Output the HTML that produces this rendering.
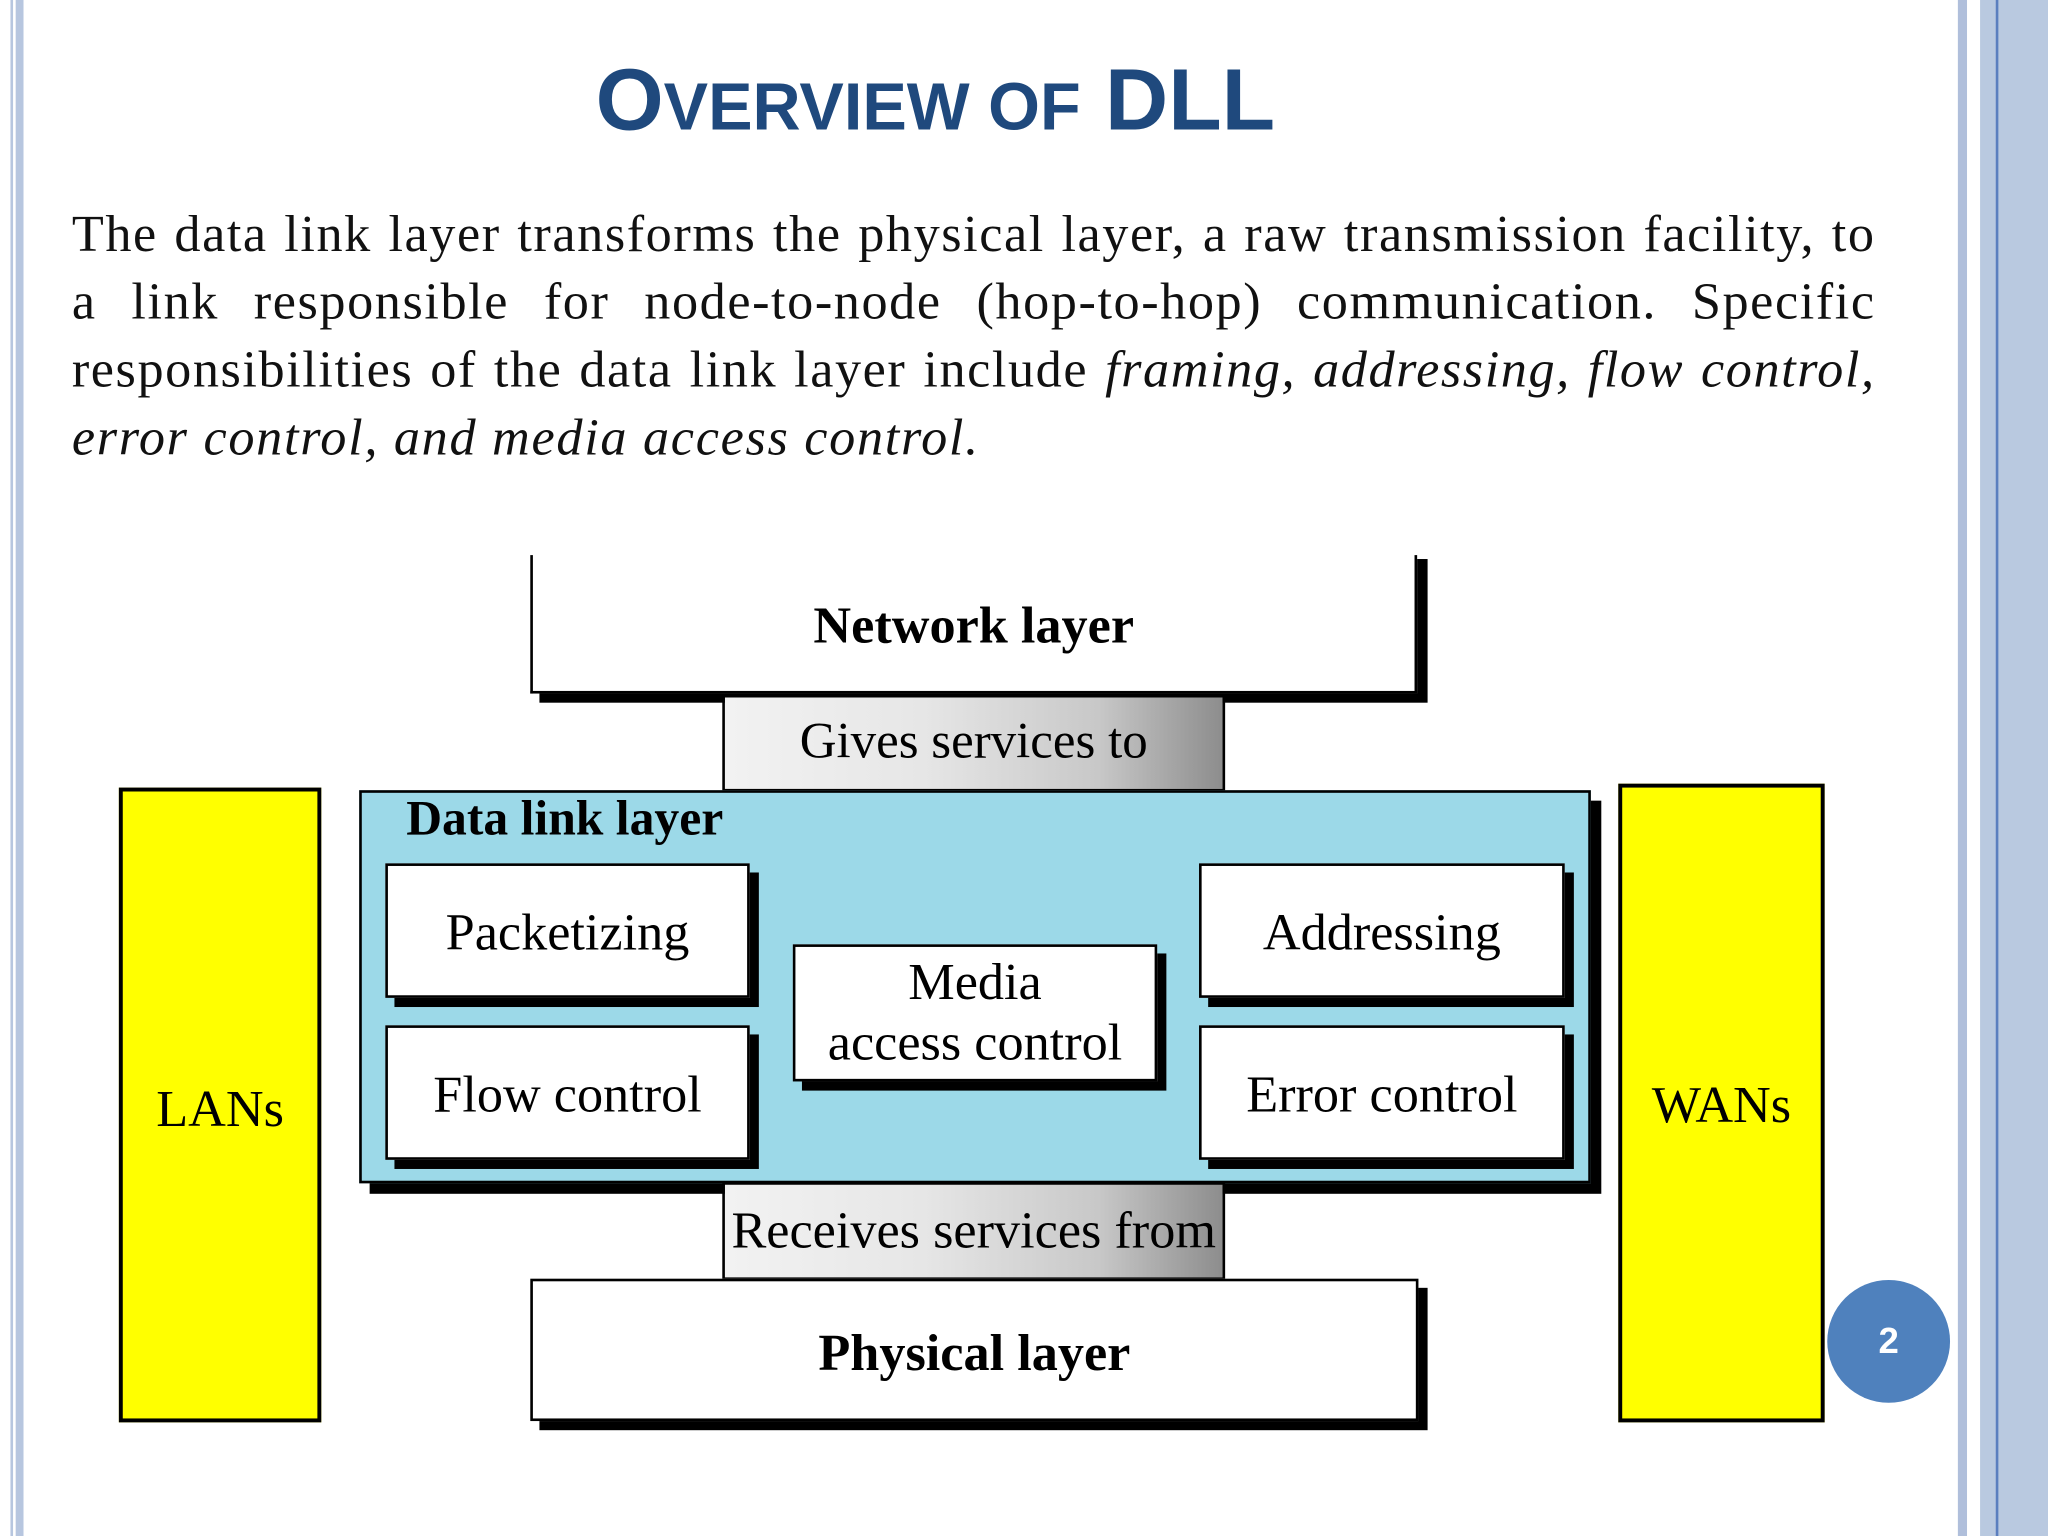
<!DOCTYPE html>
<html><head><meta charset="utf-8"><style>
html,body{margin:0;padding:0;background:#fff;width:2048px;height:1536px;overflow:hidden}
#s{position:absolute;left:0;top:0;width:1568px;height:1176px;transform:scale(1.30612);transform-origin:0 0;font-family:"Liberation Serif",serif}
.a{position:absolute}
.box{position:absolute;background:#fff;border:2px solid #000;box-shadow:7px 7px 0 #000;box-sizing:border-box}
.t{position:absolute;left:0;right:0;text-align:center;white-space:nowrap}
.c{display:inline-block}
.ln{position:absolute;left:55px;width:1381px;font-size:40px;line-height:52px;text-align:justify;text-align-last:justify;color:#111;letter-spacing:1.2px}
</style></head><body><div id="s">
<div class="a" style="left:8px;top:0;width:2px;height:1176px;background:#b7c6df"></div>
<div class="a" style="left:12px;top:0;width:6px;height:1176px;background:#b7c6df"></div>
<div class="a" style="left:1499px;top:0;width:7px;height:1176px;background:#b0bfdb"></div>
<div class="a" style="left:1516px;top:0;width:52px;height:1176px;background:#b9c9e0"></div>
<div class="a" style="left:1528px;top:0;width:2px;height:1176px;background:#5b7fbf"></div>

<div class="a" style="left:456px;top:41px;font-family:'Liberation Sans',sans-serif;font-weight:bold;color:#1f497d;white-space:nowrap;font-size:67px;line-height:72px"><span>O</span><span style="font-size:51px">VERVIEW OF</span> DLL</div>

<div class="ln" style="top:153px">The data link layer transforms the physical layer, a raw transmission facility, to</div>
<div class="ln" style="top:205px">a link responsible for node-to-node (hop-to-hop) communication. Specific</div>
<div class="ln" style="top:257px">responsibilities of the data link layer include <i>framing, addressing, flow control,</i></div>
<div class="ln" style="top:309px;text-align-last:left;letter-spacing:1.3px;white-space:nowrap"><i>error control, and media access control.</i></div>

<!-- Network layer -->
<div class="a" style="left:413px;top:428px;width:680px;height:110px;background:#000"></div>
<div class="a" style="left:406px;top:425px;width:679px;height:106px;background:#fff;border-left:2px solid #000;border-right:2px solid #000;border-bottom:2px solid #000;box-sizing:border-box"></div>
<div class="t" style="left:406px;width:679px;top:455px;font-size:40px;font-weight:bold"><span class="c">Network layer</span></div>

<!-- Gives -->
<div class="a" style="left:553px;top:532px;width:385px;height:74px;border:2px solid #000;box-sizing:border-box;background:linear-gradient(90deg,#f2f2f2 0%,#e6e6e6 40%,#c8c8c8 75%,#8d8d8d 100%)"></div>
<div class="t" style="left:553px;width:385px;top:545px;font-size:39px"><span class="c">Gives services to</span></div>

<!-- DLL -->
<div class="box" style="left:275px;top:605px;width:943px;height:301px;background:#9cd9e8;box-shadow:8px 8px 0 #000"></div>
<div class="a" style="left:311px;top:605px;font-size:38px;font-weight:bold;white-space:nowrap">Data link layer</div>

<div class="box" style="left:295px;top:661px;width:279px;height:103px"></div>
<div class="t" style="left:295px;width:279px;top:690px;font-size:40px"><span class="c">Packetizing</span></div>
<div class="box" style="left:295px;top:785px;width:279px;height:103px"></div>
<div class="t" style="left:295px;width:279px;top:814px;font-size:40px"><span class="c">Flow control</span></div>
<div class="box" style="left:607px;top:723px;width:279px;height:105px"></div>
<div class="t" style="left:607px;width:279px;top:729px;font-size:40px;line-height:46px"><span class="c">Media<br>access control</span></div>
<div class="box" style="left:918px;top:661px;width:280px;height:103px"></div>
<div class="t" style="left:918px;width:280px;top:690px;font-size:40px"><span class="c">Addressing</span></div>
<div class="box" style="left:918px;top:785px;width:280px;height:103px"></div>
<div class="t" style="left:918px;width:280px;top:814px;font-size:40px"><span class="c">Error control</span></div>

<!-- Receives -->
<div class="a" style="left:553px;top:905px;width:385px;height:75px;border:2px solid #000;box-sizing:border-box;background:linear-gradient(90deg,#f2f2f2 0%,#e6e6e6 40%,#c8c8c8 75%,#8d8d8d 100%)"></div>
<div class="t" style="left:553px;width:385px;top:918px;font-size:40px"><span class="c">Receives services from</span></div>

<!-- Physical -->
<div class="box" style="left:406px;top:979px;width:680px;height:109px"></div>
<div class="t" style="left:406px;width:680px;top:1012px;font-size:40px;font-weight:bold"><span class="c">Physical layer</span></div>

<!-- LANs/WANs -->
<div class="a" style="left:91px;top:603px;width:155px;height:486px;background:#ffff00;border:3px solid #000;box-sizing:border-box"></div>
<div class="t" style="left:91px;width:155px;top:825px;font-size:40px"><span class="c">LANs</span></div>
<div class="a" style="left:1239px;top:600px;width:158px;height:489px;background:#ffff00;border:3px solid #000;box-sizing:border-box"></div>
<div class="t" style="left:1239px;width:158px;top:822px;font-size:40px"><span class="c">WANs</span></div>

<div class="a" style="left:1399px;top:980px;width:94px;height:94px;border-radius:50%;background:#4f81bd;color:#fff;font-family:'Liberation Sans',sans-serif;font-weight:bold;font-size:28px;line-height:94px;text-align:center">2</div>
</div></body></html>
